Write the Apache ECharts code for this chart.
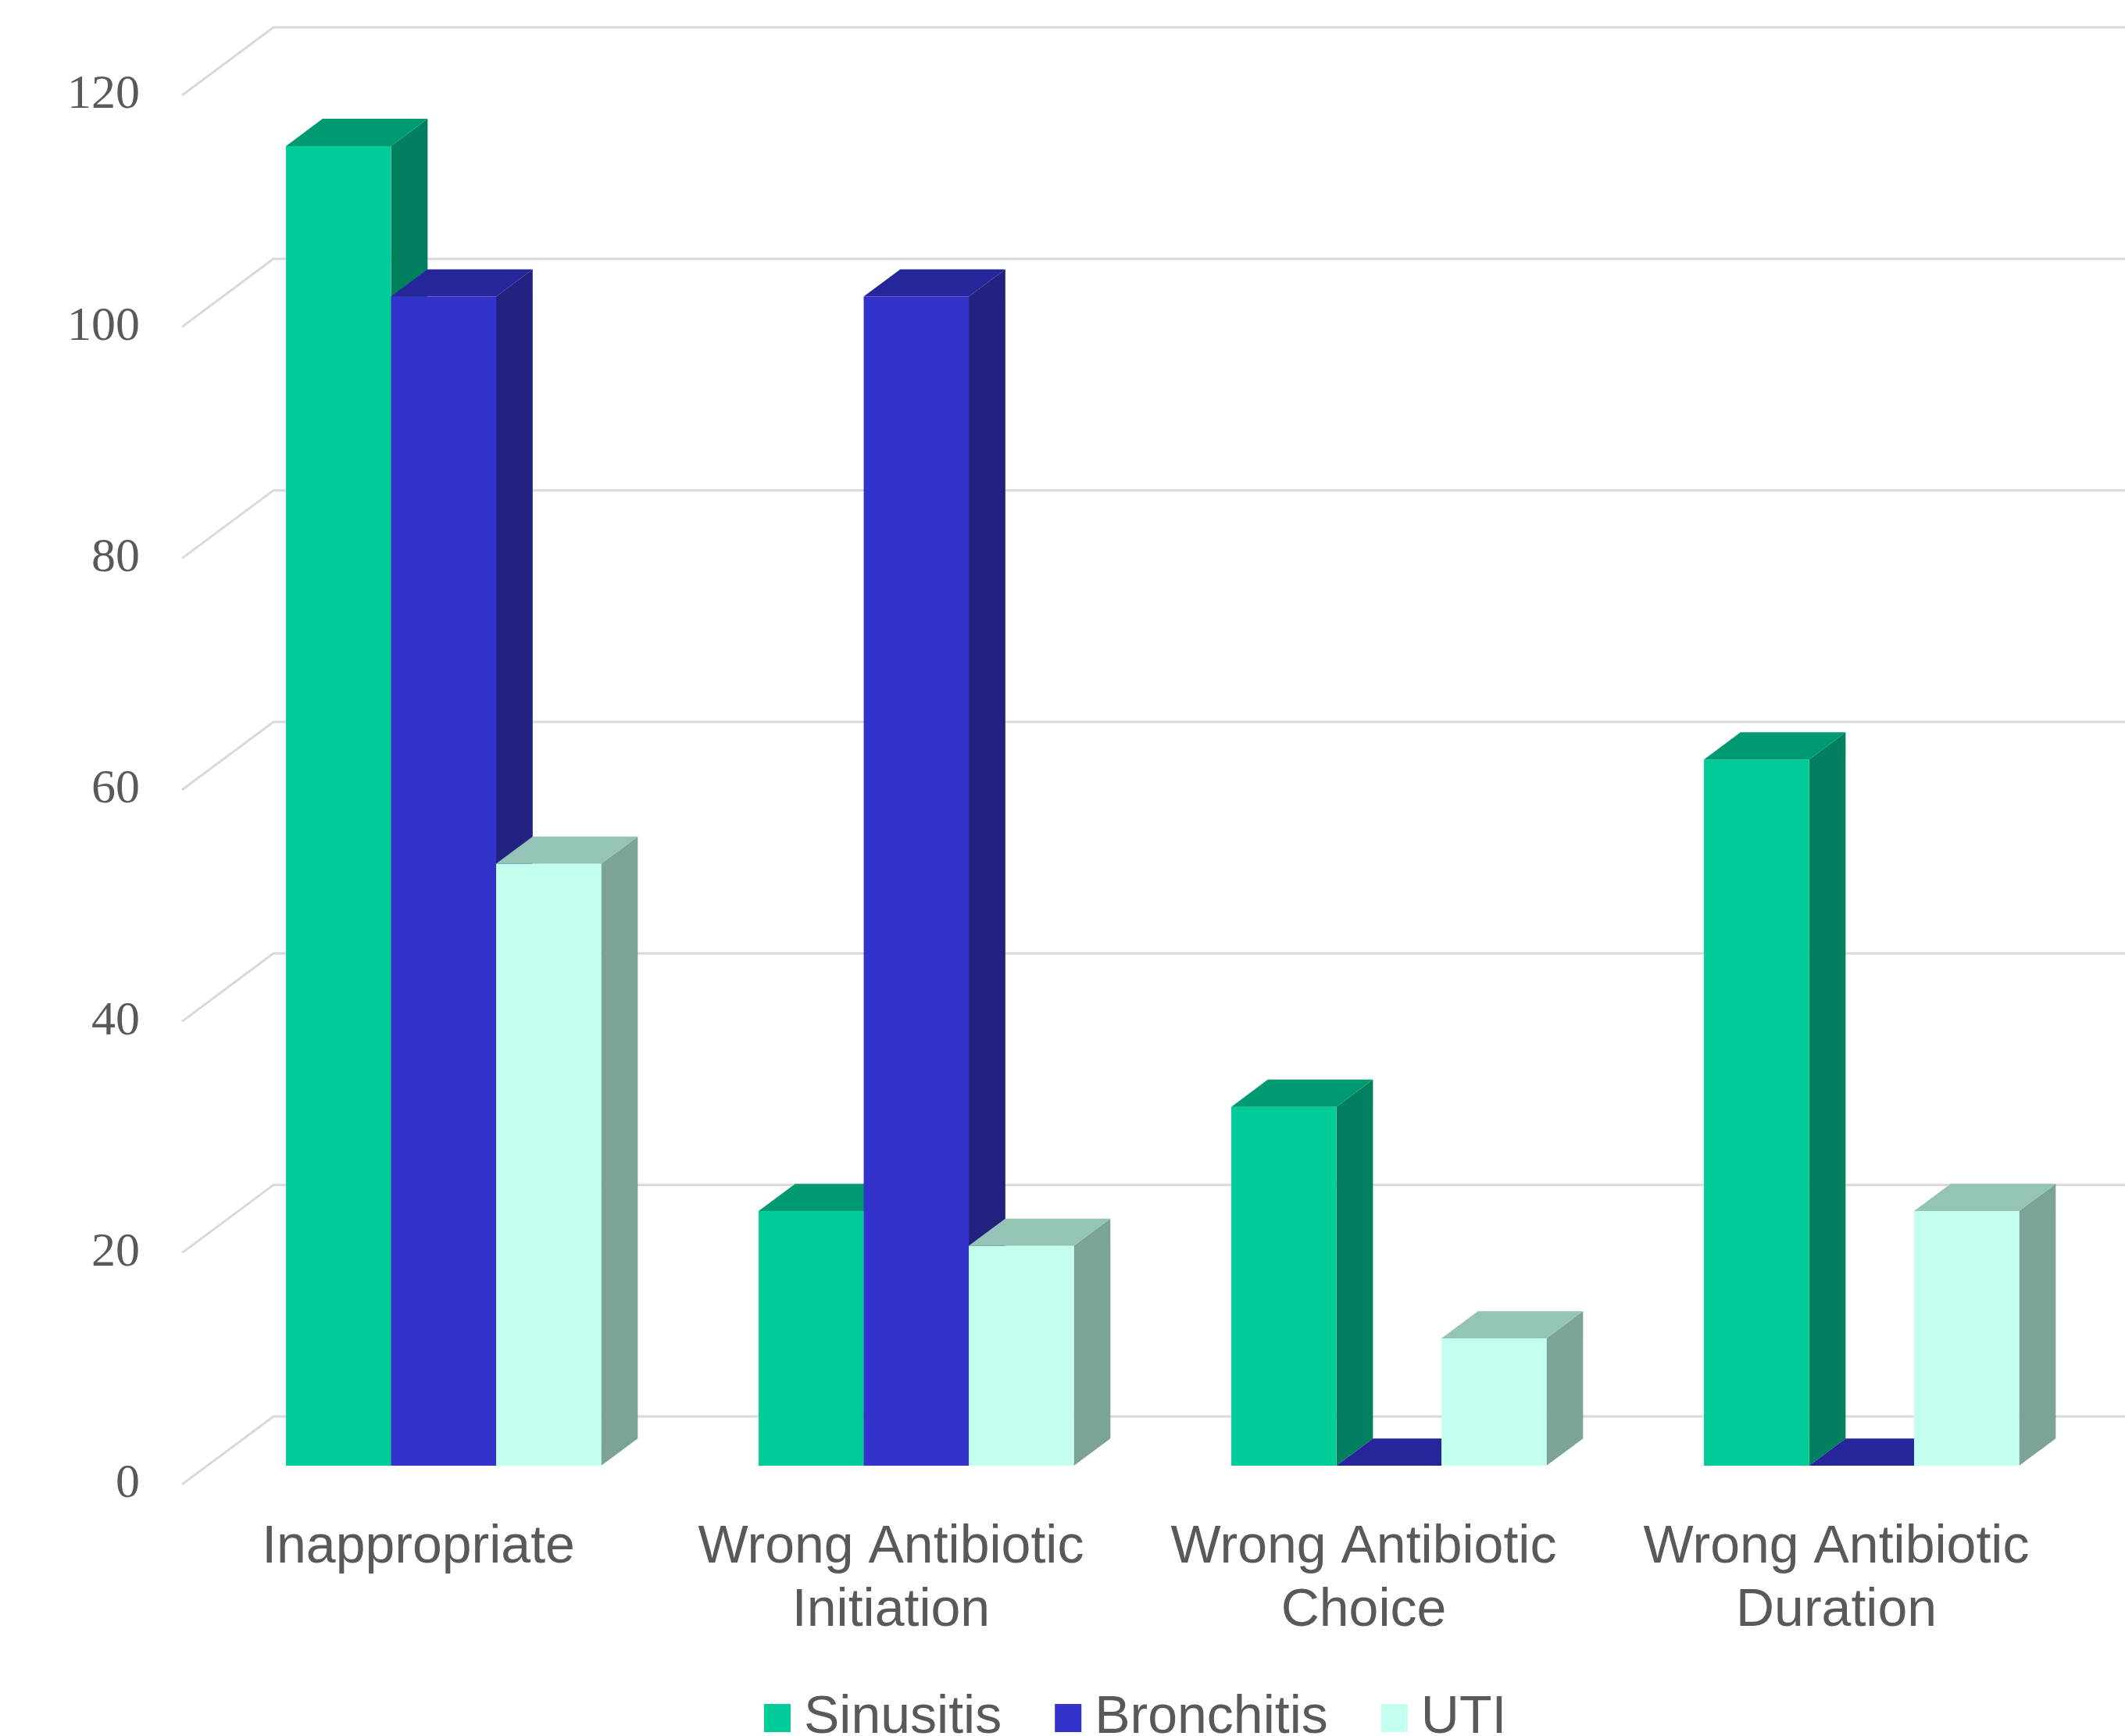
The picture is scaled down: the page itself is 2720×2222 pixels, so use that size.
<!DOCTYPE html>
<html>
<head>
<meta charset="utf-8">
<style>
  html, body { margin: 0; padding: 0; background: #ffffff; }
  #chart { width: 2720px; height: 2222px; }
</style>
<script src="https://cdn.jsdelivr.net/npm/echarts@6/dist/echarts.min.js"></script>
</head>
<body>
<div id="chart"></div>
<script>
// ---- data ----
const categories = ['Inappropriate', 'Wrong Antibiotic\nInitiation', 'Wrong Antibiotic\nChoice', 'Wrong Antibiotic\nDuration'];
const seriesNames = ['Sinusitis', 'Bronchitis', 'UTI'];
const sinusitis = [114, 22, 31, 61];
const bronchitis = [101, 101, 0, 0];
const uti = [52, 19, 11, 22];
const yTicks = [0, 20, 40, 60, 80, 100, 120];

// ---- styles ----
const faceColors = [
  { front: '#00CC99', top: '#009A72', side: '#00805F' },
  { front: '#3333CC', top: '#26269A', side: '#222280' },
  { front: '#C2FFEF', top: '#94C3B8', side: '#7BA398' }
];
const DEPTH = [117, -87];     // oblique depth vector of the floor (px)
const F0 = 0.276, F1 = 0.676; // bar front / back planes as fraction of depth
const BAR_FRAC = 0.2223;      // bar width as fraction of category band

function barRenderer(sIdx) {
  const c = faceColors[sIdx];
  return function (params, api) {
    const cat = api.value(0), val = api.value(1);
    const band = api.size([1, 0])[0];
    const base = api.coord([cat, 0]);
    const top = api.coord([cat, val]);
    const bw = band * BAR_FRAC;
    const fx = DEPTH[0] * F0, fy = DEPTH[1] * F0;
    const dx = DEPTH[0] * (F1 - F0), dy = DEPTH[1] * (F1 - F0);
    const x0 = base[0] - bw * 1.5 + sIdx * bw + fx;
    const x1 = x0 + bw;
    const yb = base[1] + fy, yt = top[1] + fy;
    return {
      type: 'group',
      children: [
        { type: 'polygon', shape: { points: [[x1, yb], [x1 + dx, yb + dy], [x1 + dx, yt + dy], [x1, yt]] },
          style: { fill: c.side } },
        { type: 'polygon', shape: { points: [[x0, yb], [x1, yb], [x1, yt], [x0, yt]] },
          style: { fill: c.front } },
        { type: 'polygon', shape: { points: [[x0, yt], [x1, yt], [x1 + dx, yt + dy], [x0 + dx, yt + dy]] },
          style: { fill: c.top } }
      ]
    };
  };
}

function gridRenderer(params, api) {
  const cs = params.coordSys;
  const y = api.coord([0, api.value(1)])[1];
  return {
    type: 'polyline',
    shape: { points: [[cs.x, y], [cs.x + DEPTH[0], y + DEPTH[1]], [cs.x + cs.width + DEPTH[0] + 100, y + DEPTH[1]]] },
    style: { stroke: '#D9D9D9', lineWidth: 3, fill: null }
  };
}

const allSeries = [sinusitis, bronchitis, uti];

const chart = echarts.init(document.getElementById('chart'));
chart.setOption({
  animation: false,
  backgroundColor: '#ffffff',
  color: faceColors.map(c => c.front),
  grid: { left: 233, top: 122, width: 2420, height: 1778 },
  xAxis: {
    type: 'category',
    data: categories,
    boundaryGap: true,
    axisLine: { show: false },
    axisTick: { show: false },
    axisLabel: {
      interval: 0, margin: 41,
      fontFamily: 'Liberation Sans, Arial, sans-serif',
      fontSize: 68, lineHeight: 81, color: '#595959'
    }
  },
  yAxis: {
    type: 'value',
    min: 0, max: 120, interval: 20,
    axisLine: { show: false },
    axisTick: { show: false },
    splitLine: { show: false },
    axisLabel: {
      margin: 54,
      fontFamily: 'Liberation Serif, Times New Roman, serif',
      fontSize: 62, color: '#595959'
    }
  },
  legend: {
    data: seriesNames,
    left: 978, top: 2159, padding: 0,
    icon: 'rect', itemWidth: 34, itemHeight: 36, itemGap: 68,
    textStyle: {
      fontFamily: 'Liberation Sans, Arial, sans-serif',
      fontSize: 68, lineHeight: 80, color: '#595959',
      padding: [0, 0, 0, 12]
    }
  },
  series: [
    {
      type: 'custom', name: '_grid', silent: true, z: 1,
      renderItem: gridRenderer,
      data: yTicks.map(v => [0, v])
    }
  ].concat(allSeries.map((vals, i) => ({
    type: 'custom', name: seriesNames[i], z: 2 + i,
    itemStyle: { color: faceColors[i].front },
    renderItem: barRenderer(i),
    data: vals.map((v, j) => [j, v])
  })))
});
</script>
</body>
</html>
